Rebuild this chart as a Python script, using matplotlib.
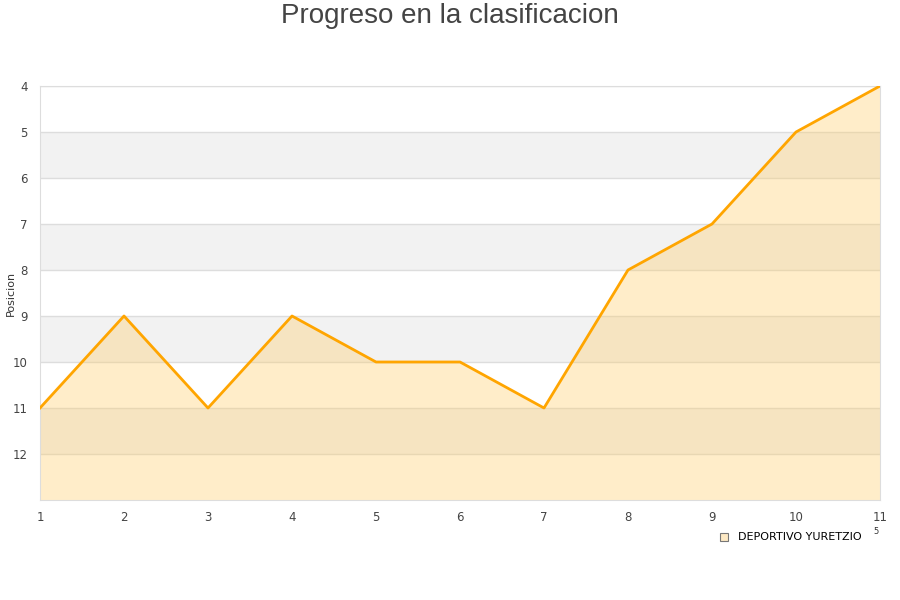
import numpy as np
import matplotlib.pyplot as plt

# Data
jornadas = [1, 2, 3, 4, 5, 6, 7, 8, 9, 10, 11]
posicion = [11, 9, 11, 9, 10, 10, 11, 8, 7, 5, 4]
yticks = [4, 5, 6, 7, 8, 9, 10, 11, 12]
equipo = "DEPORTIVO YURETZIO"

fig = plt.figure(figsize=(9, 6), dpi=100)
ax = fig.add_axes([40 / 900, 100 / 600, 840 / 900, 414 / 600])

# alternating bands
for y0 in [5, 7, 9, 11]:
    ax.axhspan(y0, y0 + 1, color="#f2f2f2", zorder=0, lw=0)
for y in yticks:
    ax.axhline(y, color="#dddddd", lw=1, zorder=1)

ax.fill_between(jornadas, posicion, 13, color="#ffcc66", alpha=0.35, lw=0, zorder=2)
ax.plot(jornadas, posicion, color="#ffa500", lw=2, zorder=3)

ax.set_xlim(1, 11)
ax.set_ylim(13, 4)
ax.set_xticks(jornadas)
ax.set_yticks(yticks)
ax.tick_params(length=0, labelsize=8.5, colors="#444444", pad=8)
ax.tick_params(axis="y", pad=9)
for s in ax.spines.values():
    s.set_color("#dddddd")

fig.text(11 / 900, 1 - 293 / 600, "Posicion", rotation=90, fontsize=8,
         color="#333333", ha="center", va="center")
fig.text(0.5, 1 - 16 / 600, "Progreso en la clasificacion", ha="center", va="center",
         fontsize=20, color="#444444", family="Liberation Sans")

# legend
fig.patches.append(plt.Rectangle((720 / 900, 1 - 541 / 600), 8 / 900, 8 / 600,
                                 transform=fig.transFigure, facecolor="#fde9c4",
                                 edgecolor="#777777", lw=0.8))
fig.text(738 / 900, 1 - 537 / 600, equipo, fontsize=8, va="center", color="#000000")
fig.text(873 / 900, 1 - 532 / 600, "5", fontsize=6, va="center", color="#333333")

plt.savefig("out.png", dpi=100)
